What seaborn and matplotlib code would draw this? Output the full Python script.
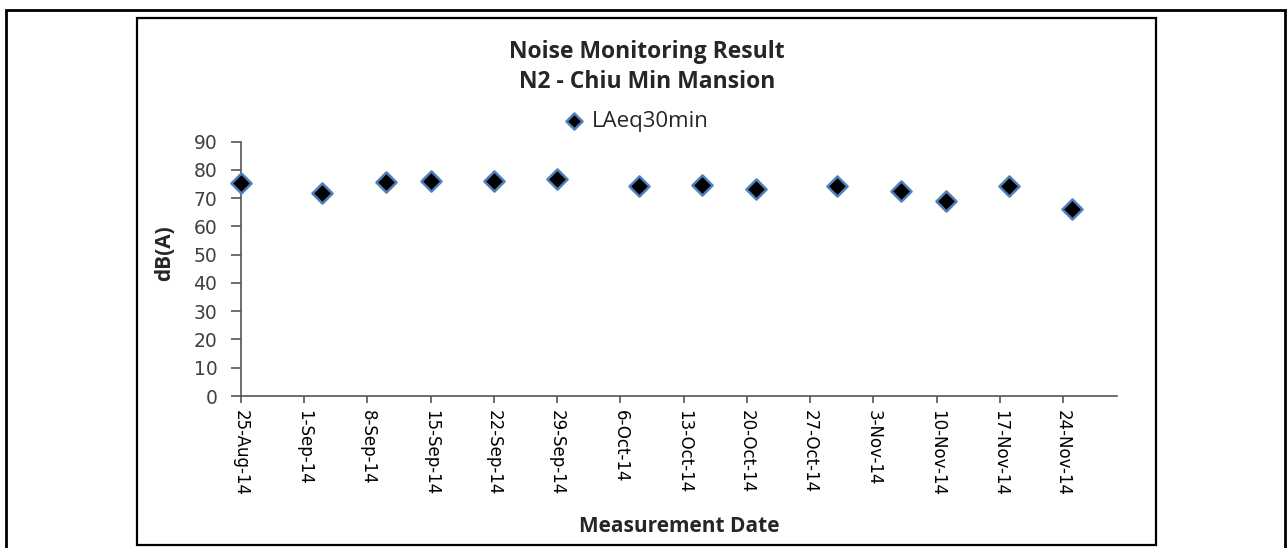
import matplotlib
matplotlib.use("Agg")
import matplotlib.pyplot as plt
import pandas as pd
import seaborn as sns
from matplotlib.patches import Rectangle

measure_dates = [
    "2014-08-25", "2014-09-03", "2014-09-10", "2014-09-15", "2014-09-22",
    "2014-09-29", "2014-10-08", "2014-10-15", "2014-10-21", "2014-10-30",
    "2014-11-06", "2014-11-11", "2014-11-18", "2014-11-25",
]
laeq_30min = [75.4, 71.8, 75.7, 76.2, 76.2, 76.9, 74.4,
              74.8, 73.4, 74.4, 72.6, 69.1, 74.4, 66.3]

tick_dates = [
    "2014-08-25", "2014-09-01", "2014-09-08", "2014-09-15", "2014-09-22",
    "2014-09-29", "2014-10-06", "2014-10-13", "2014-10-20", "2014-10-27",
    "2014-11-03", "2014-11-10", "2014-11-17", "2014-11-24",
]
tick_labels = [
    "25-Aug-14", "1-Sep-14", "8-Sep-14", "15-Sep-14", "22-Sep-14",
    "29-Sep-14", "6-Oct-14", "13-Oct-14", "20-Oct-14", "27-Oct-14",
    "3-Nov-14", "10-Nov-14", "17-Nov-14", "24-Nov-14",
]
y_ticks = [0, 10, 20, 30, 40, 50, 60, 70, 80, 90]

title = "Noise Monitoring Result\nN2 - Chiu Min Mansion"
series_name = "LAeq30min"

df = pd.DataFrame({"date": pd.to_datetime(measure_dates), "laeq": laeq_30min})

sns.set_style("ticks")
plt.rcParams["font.family"] = ["DejaVu Sans"]

W, H = 1287, 548
fig = plt.figure(figsize=(W / 100, H / 100), dpi=100)
fig.patch.set_facecolor("white")

# plot area in pixels -> figure fractions
ax = fig.add_axes([241 / W, 152 / H, 876.4 / W, 254.3 / H])

sns.scatterplot(
    data=df, x="date", y="laeq", ax=ax,
    marker="D", s=105, color="black",
    edgecolor="#4F81BD", linewidth=1.8,
    label=series_name, zorder=3, clip_on=False,
)
handles, labels = ax.get_legend_handles_labels()
if ax.get_legend() is not None:
    ax.get_legend().remove()

ax.set_xlim(pd.Timestamp("2014-08-25"), pd.Timestamp("2014-11-30"))
ax.set_ylim(0, 90)
ax.set_xticks(pd.to_datetime(tick_dates))
ax.set_xticklabels(tick_labels, rotation=270, ha="center", va="top",
                   fontsize=12, color="black")
ax.set_yticks(y_ticks)
ax.set_yticklabels([str(v) for v in y_ticks], fontsize=13.5, color="#404040")

sns.despine(ax=ax)
for side in ["left", "bottom"]:
    ax.spines[side].set_color("#555555")
    ax.spines[side].set_linewidth(1.2)
ax.tick_params(axis="y", length=7, width=1.2, color="#555555", pad=10)
ax.tick_params(axis="x", length=5, width=1.2, color="#555555", pad=5)
ax.grid(False)

ax.set_xlabel("Measurement Date", family="Open Sans", fontweight="bold", fontsize=15)
ax.xaxis.set_label_coords(0.5, -0.47)
ax.set_ylabel("dB(A)", family="Open Sans", fontweight="bold", fontsize=15)
ax.yaxis.set_label_coords(-0.075, 0.56)

fig.text(647 / W, 1 - 67 / H, title, ha="center", va="center",
         family="Open Sans", fontweight="bold", fontsize=16.5, linespacing=1.35)

fig.legend(handles, labels, loc="center", bbox_to_anchor=(637 / W, 1 - 121 / H),
           frameon=False, markerscale=0.8, handlelength=0.8, handletextpad=0.4,
           prop={"family": "Open Sans", "size": 16})

# outer frame and chart frame
fig.patches.append(Rectangle((6 / W, -0.05), 1279 / W, 1 - 10 / H + 0.05,
                             transform=fig.transFigure, fill=False,
                             edgecolor="black", linewidth=2))
fig.patches.append(Rectangle((137 / W, 3 / H), 1019 / W, 1 - 18 / H - 3 / H,
                             transform=fig.transFigure, fill=False,
                             edgecolor="black", linewidth=1.6))

fig.savefig("out.png", dpi=100)
